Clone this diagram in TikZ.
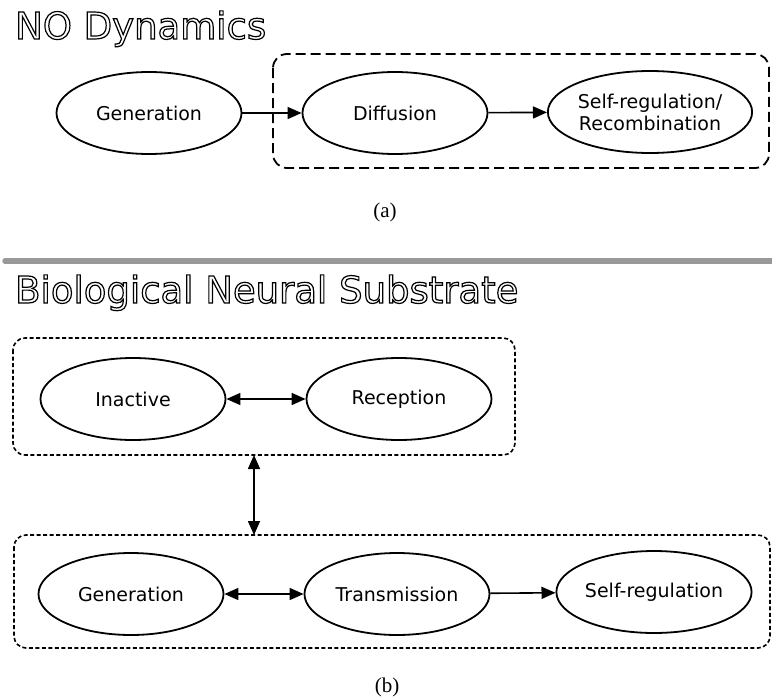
\documentclass[tikz,border=0pt]{standalone}
\usepackage{fontspec}
\setmainfont{DejaVu Sans}
\newfontfamily\capfont{Liberation Serif}
\usetikzlibrary{arrows.meta,shapes.geometric}

% hollow letters for the two headings
\newcommand{\hollow}[1]{\special{pdf:literal direct 1.2 w 1 Tr}#1\special{pdf:literal direct 0 Tr}}

\begin{document}
\begin{tikzpicture}[x=1pt,y=-1pt,
    state/.style={draw,ellipse,line width=1.8pt,minimum width=185pt,minimum height=82pt,inner sep=0pt,font=\fontsize{19}{22}\selectfont,align=center},
    link/.style={line width=1.6pt,-{Triangle[length=14pt,width=12pt]}},
    twoway/.style={line width=1.6pt,{Triangle[length=14pt,width=12pt]}-{Triangle[length=14pt,width=12pt]}},
    heading/.style={anchor=base west,inner sep=0pt,font=\fontsize{37}{40}\selectfont},
    caption/.style={font=\capfont\fontsize{21}{24}\selectfont}]
            \useasboundingbox (0,0) rectangle (772,699);

            % (a) NO dynamics
            \node[heading] (titleA) at (15,39) {\hollow{NO Dynamics}};
            \draw[line width=1.8pt,dash pattern=on 10pt off 5pt,rounded corners=14pt]
                (273,54) rectangle (769,168);
            \node[state] (gen) at (149,113) {Generation};
            \node[state] (diff) at (395,113) {Diffusion};
            \node[state] (selfA) at (650,112) {Self-regulation/\\Recombination};
            \draw[link] (gen) -- (diff);
            \draw[link] (diff) -- (selfA);
            \node[caption] (capA) at (385,212) {(a)};

            \draw[black!40,line width=5.5pt,line cap=round] (5,261) -- (775,261);

            % (b) biological neural substrate
            \node[heading] (titleB) at (15,303) {\hollow{Biological Neural Substrate}};
            \draw[line width=1.6pt,dash pattern=on 4pt off 2.5pt,rounded corners=12pt]
                (13,338) rectangle (515,455);
            \draw[line width=1.6pt,dash pattern=on 4pt off 2.5pt,rounded corners=12pt]
                (14,535) rectangle (770,648);
            \coordinate (upper) at (254,455);
            \coordinate (lower) at (254,535);
            \node[state] (inact) at (133,399) {Inactive};
            \node[state] (recep) at (399,399) {Reception};
            \node[state] (genB) at (131,594) {Generation};
            \node[state] (trans) at (397,594) {Transmission};
            \node[state] (selfB) at (654,592) {Self-regulation};
            \draw[twoway] (inact) -- (recep);
            \draw[twoway] (upper) -- (lower);
            \draw[twoway] (genB) -- (trans);
            \draw[link] (trans) -- (selfB);
            \node[caption] (capB) at (387,687) {(b)};
        \end{tikzpicture}
\end{document}
